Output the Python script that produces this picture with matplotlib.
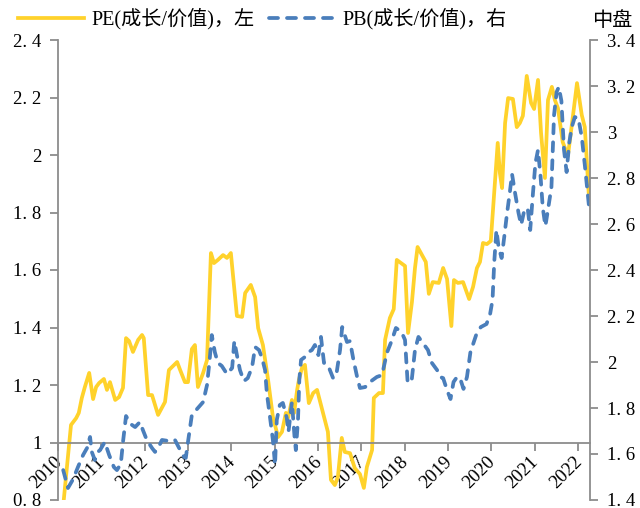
import matplotlib
matplotlib.use("Agg")
import matplotlib.pyplot as plt
import matplotlib.transforms as mtransforms
from matplotlib.lines import Line2D

# ---------------- data ----------------
pe_years = [2010.12, 2010.30, 2010.42, 2010.48, 2010.55, 2010.62, 2010.72, 2010.81, 2010.88, 2010.95,
            2011.06, 2011.13, 2011.20, 2011.32, 2011.41, 2011.50, 2011.57, 2011.64, 2011.73, 2011.85,
            2011.94, 2011.98, 2012.08, 2012.17, 2012.31, 2012.47, 2012.56, 2012.75, 2012.82, 2012.93,
            2013.00, 2013.09, 2013.16, 2013.23, 2013.35, 2013.44, 2013.53, 2013.60, 2013.69, 2013.81,
            2013.90, 2013.99, 2014.13, 2014.25, 2014.32, 2014.45, 2014.55, 2014.62, 2014.73, 2014.85,
            2014.96, 2015.08, 2015.17, 2015.26, 2015.31, 2015.40, 2015.45, 2015.52, 2015.56, 2015.63,
            2015.70, 2015.79, 2015.89, 2015.98, 2016.23, 2016.30, 2016.39, 2016.46, 2016.55, 2016.62,
            2016.74, 2016.85, 2016.97, 2017.06, 2017.13, 2017.25, 2017.29, 2017.41, 2017.50, 2017.55,
            2017.66, 2017.75, 2017.82, 2018.01, 2018.08, 2018.17, 2018.24, 2018.30, 2018.49, 2018.56,
            2018.65, 2018.79, 2018.89, 2018.98, 2019.08, 2019.14, 2019.23, 2019.35, 2019.49, 2019.58,
            2019.67, 2019.74, 2019.81, 2019.90, 2019.99, 2020.04, 2020.09, 2020.15, 2020.20, 2020.25,
            2020.32, 2020.39, 2020.50, 2020.59, 2020.66, 2020.73, 2020.82, 2020.92, 2020.99, 2021.08,
            2021.15, 2021.24, 2021.31, 2021.40, 2021.47, 2021.54, 2021.65, 2021.77, 2021.86, 2021.98,
            2022.09, 2022.16, 2022.25]
pe_values = [0.78, 1.061, 1.085, 1.103, 1.155, 1.193, 1.242, 1.151, 1.193, 1.207,
             1.221, 1.183, 1.210, 1.148, 1.158, 1.190, 1.363, 1.353, 1.315, 1.357,
             1.374, 1.363, 1.165, 1.165, 1.096, 1.141, 1.252, 1.280, 1.252, 1.210,
             1.210, 1.325, 1.339, 1.193, 1.242, 1.287, 1.659, 1.624, 1.635, 1.652,
             1.642, 1.659, 1.440, 1.437, 1.520, 1.548, 1.506, 1.398, 1.339, 1.217,
             1.089, 1.019, 1.037, 1.103, 1.085, 1.148, 1.103, 1.183, 1.217, 1.259,
             1.270, 1.137, 1.172, 1.183, 1.037, 0.870, 0.852, 0.880, 1.016, 0.967,
             0.963, 0.911, 0.890, 0.842, 0.915, 0.974, 1.155, 1.172, 1.172, 1.357,
             1.433, 1.464, 1.635, 1.614, 1.381, 1.489, 1.607, 1.680, 1.628, 1.517,
             1.558, 1.555, 1.607, 1.569, 1.405, 1.565, 1.555, 1.558, 1.499, 1.541,
             1.607, 1.628, 1.694, 1.690, 1.701, 1.809, 1.913, 2.042, 1.937, 1.885,
             2.111, 2.198, 2.195, 2.097, 2.111, 2.136, 2.275, 2.181, 2.160, 2.261,
             2.077, 1.920, 2.191, 2.237, 2.191, 2.163, 2.045, 1.997, 2.104, 2.250,
             2.139, 2.097, 1.868]

pb_years = [2010.12, 2010.23, 2010.35, 2010.46, 2010.58, 2010.67, 2010.74, 2010.78, 2010.85, 2010.92,
            2010.97, 2011.08, 2011.18, 2011.29, 2011.36, 2011.45, 2011.50, 2011.57, 2011.68, 2011.78,
            2011.89, 2011.96, 2012.05, 2012.17, 2012.24, 2012.31, 2012.40, 2012.54, 2012.70, 2012.82,
            2012.91, 2012.95, 2013.00, 2013.09, 2013.23, 2013.35, 2013.44, 2013.50, 2013.55, 2013.62,
            2013.69, 2013.78, 2013.90, 2014.02, 2014.07, 2014.13, 2014.20, 2014.29, 2014.38, 2014.48,
            2014.55, 2014.64, 2014.71, 2014.78, 2014.82, 2014.89, 2014.96, 2015.01, 2015.05, 2015.12,
            2015.19, 2015.28, 2015.32, 2015.40, 2015.46, 2015.49, 2015.54, 2015.57, 2015.61, 2015.70,
            2015.78, 2015.86, 2015.93, 2016.01, 2016.07, 2016.14, 2016.23, 2016.35, 2016.42, 2016.51,
            2016.56, 2016.67, 2016.74, 2016.82, 2016.90, 2016.97, 2017.09, 2017.20, 2017.36, 2017.48,
            2017.59, 2017.71, 2017.80, 2017.93, 2018.01, 2018.07, 2018.16, 2018.24, 2018.32, 2018.42,
            2018.54, 2018.63, 2018.75, 2018.82, 2018.89, 2018.98, 2019.06, 2019.13, 2019.21, 2019.28,
            2019.36, 2019.44, 2019.52, 2019.66, 2019.76, 2019.89, 2019.97, 2020.03, 2020.07, 2020.12,
            2020.17, 2020.24, 2020.30, 2020.36, 2020.43, 2020.48, 2020.55, 2020.63, 2020.69, 2020.75,
            2020.84, 2020.90, 2020.96, 2021.02, 2021.08, 2021.14, 2021.19, 2021.25, 2021.32, 2021.39,
            2021.45, 2021.51, 2021.56, 2021.62, 2021.68, 2021.74, 2021.80, 2021.86, 2021.93, 2022.01,
            2022.09, 2022.16, 2022.27]
pb_values = [1.530, 1.452, 1.491, 1.543, 1.596, 1.626, 1.674, 1.609, 1.574, 1.609,
             1.617, 1.652, 1.596, 1.543, 1.530, 1.557, 1.652, 1.765, 1.730, 1.717,
             1.739, 1.704, 1.661, 1.626, 1.609, 1.626, 1.661, 1.657, 1.661, 1.617,
             1.587, 1.583, 1.652, 1.770, 1.800, 1.826, 1.900, 2.009, 2.117, 2.043,
             1.996, 1.983, 1.948, 1.974, 2.091, 2.030, 1.965, 1.917, 1.930, 1.978,
             2.065, 2.052, 2.017, 1.965, 1.865, 1.765, 1.661, 1.552, 1.748, 1.813,
             1.822, 1.757, 1.696, 1.826, 1.674, 1.617, 1.748, 1.922, 2.009, 2.022,
             2.043, 2.052, 2.074, 2.030, 2.109, 1.996, 1.987, 1.930, 1.939, 2.052,
             2.152, 2.087, 2.091, 2.009, 1.939, 1.887, 1.891, 1.913, 1.935, 1.943,
             2.039, 2.096, 2.148, 2.130, 2.096, 1.913, 1.913, 2.052, 2.109, 2.083,
             2.052, 1.996, 1.965, 1.935, 1.930, 1.878, 1.839, 1.913, 1.935, 1.930,
             1.883, 1.935, 2.043, 2.122, 2.152, 2.165, 2.204, 2.270, 2.435, 2.574,
             2.500, 2.452, 2.543, 2.639, 2.739, 2.817, 2.735, 2.648, 2.596, 2.648,
             2.670, 2.574, 2.726, 2.865, 2.922, 2.804, 2.670, 2.591, 2.674, 2.761,
             3.074, 3.174, 3.196, 3.135, 2.922, 2.826, 2.952, 3.022, 3.065, 3.061,
             2.978, 2.857, 2.652]

year_ticks = list(range(2010, 2023))
left_ticks = [0.8, 1.0, 1.2, 1.4, 1.6, 1.8, 2.0, 2.2, 2.4]
left_ticklabels = ["0. 8", "1", "1. 2", "1. 4", "1. 6", "1. 8", "2", "2. 2", "2. 4"]
right_ticks = [1.4, 1.6, 1.8, 2.0, 2.2, 2.4, 2.6, 2.8, 3.0, 3.2, 3.4]
right_ticklabels = ["1. 4", "1. 6", "1. 8", "2", "2. 2", "2. 4", "2. 6", "2. 8", "3", "3. 2", "3. 4"]

pe_label = "PE(成长/价值)，左"
pb_label = "PB(成长/价值)，右"
corner_text = "中盘"

# ---------------- style ----------------
YELLOW = "#FFD22B"
BLUE = "#4A7EBB"
AXIS = "#8C8C8C"
SERIF = ["Liberation Serif", "Noto Sans CJK SC"]
plt.rcParams["font.family"] = SERIF

fig = plt.figure(figsize=(6.4, 5.08), dpi=100)
ax = fig.add_axes([58 / 640, 8 / 508, 532 / 640, 460 / 508])
ax2 = ax.twinx()

ax.plot(pe_years, pe_values, color=YELLOW, lw=2.7, solid_joinstyle="round")
ax2.plot(pb_years, pb_values, color=BLUE, lw=2.7, linestyle=(0, (2.4, 2.4)),
         dash_capstyle="round")

ax.set_xlim(2010, 2022.28)
ax.set_ylim(0.8, 2.4)
ax2.set_ylim(1.4, 3.4)

for s in ("top",):
    ax.spines[s].set_visible(False)
    ax2.spines[s].set_visible(False)
ax2.spines["bottom"].set_visible(False)
ax2.spines["left"].set_visible(False)
ax.spines["right"].set_visible(False)
ax.spines["bottom"].set_position(("data", 1.0))
for sp in (ax.spines["left"], ax.spines["bottom"], ax2.spines["right"]):
    sp.set_color(AXIS)
    sp.set_linewidth(1.3)

ax.set_yticks(left_ticks)
ax.set_yticklabels(left_ticklabels, fontsize=13.5)
ax2.set_yticks(right_ticks)
ax2.set_yticklabels(right_ticklabels, fontsize=13.5)
ax.tick_params(axis="y", direction="out", length=6, width=1.3, color=AXIS, pad=6)
ax2.tick_params(axis="y", direction="out", length=6, width=1.3, color=AXIS, pad=6)

ax.set_xticks(year_ticks)
ax.set_xticklabels([str(y) for y in year_ticks], fontsize=13.5)
ax.tick_params(axis="x", direction="out", length=6, width=1.3, color=AXIS, pad=2)
offset = mtransforms.ScaledTranslation(-0.12, 0, fig.dpi_scale_trans)
for lab in ax.get_xticklabels():
    lab.set_rotation(45)
    lab.set_ha("center")
    lab.set_va("top")
    lab.set_transform(lab.get_transform() + offset)

# legend
handles = [Line2D([], [], color=YELLOW, lw=2.7),
           Line2D([], [], color=BLUE, lw=2.7, linestyle=(0, (2.4, 2.4)), dash_capstyle="round")]
fig.legend(handles, [pe_label, pb_label], loc="upper left",
           bbox_to_anchor=(18 / 640, 1 - 8 / 508), ncol=2, frameon=False,
           prop={"family": SERIF, "size": 14.5}, handlelength=3.3, handletextpad=0.35,
           columnspacing=0.7, borderpad=0, borderaxespad=0)
fig.text(612 / 640, 1 - 21 / 508, corner_text, ha="center", va="center",
         fontsize=14.5, family=SERIF)

fig.savefig("out.png", dpi=100)
